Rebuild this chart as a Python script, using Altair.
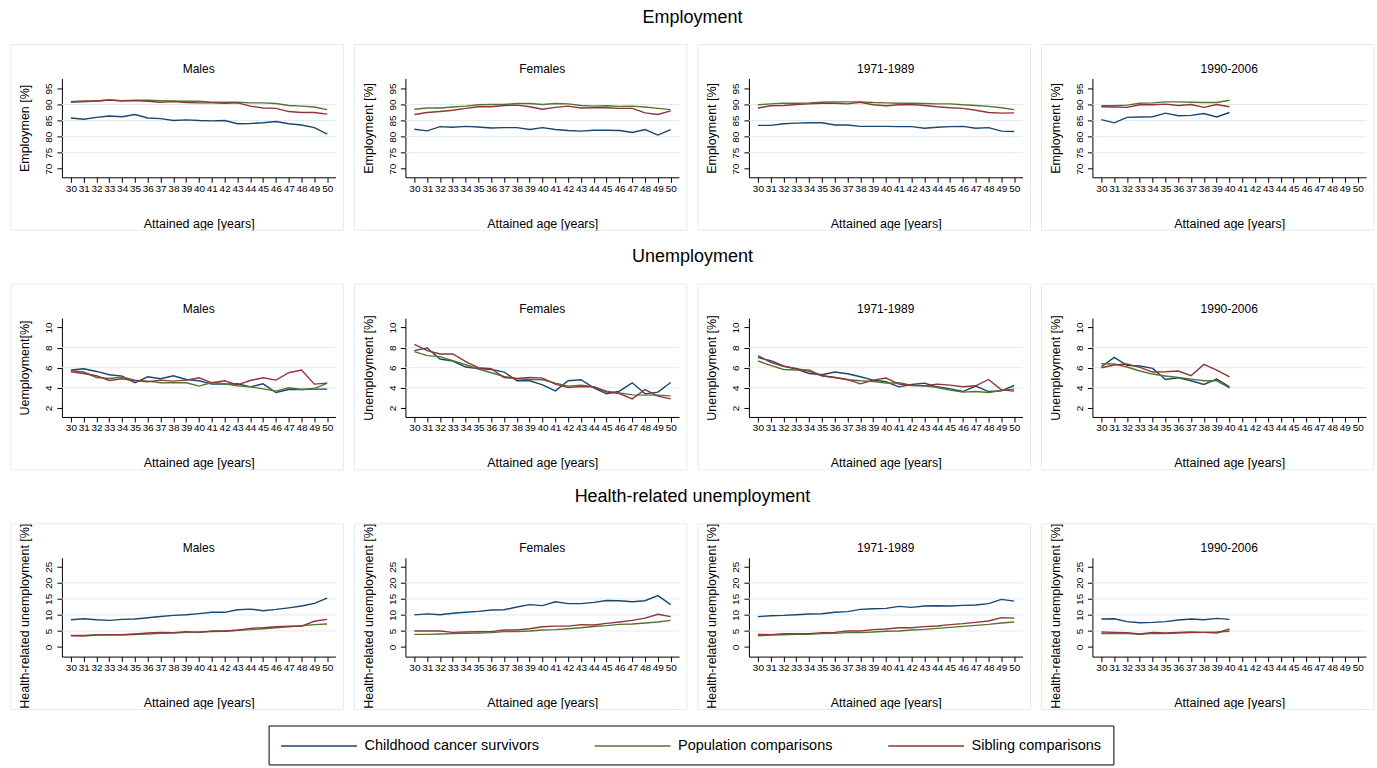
import altair as alt
import pandas as pd

FONT = "Liberation Sans"

AGES = list(range(30, 51))
AGES_RECENT = list(range(30, 41))
SERIES = ["Childhood cancer survivors", "Population comparisons", "Sibling comparisons"]
COLORS = ["#1a476f", "#55752f", "#90353b"]
GROUPS = ["Males", "Females", "1971-1989", "1990-2006"]
ROW_TITLES = ["Employment", "Unemployment", "Health-related unemployment"]
EMP_YTITLES = ["Employmen [%]", "Employment [%]", "Employment [%]", "Employment [%]"]
UNEMP_YTITLES = ["Uemployment[%]", "Unemployment [%]", "Unemployment [%]", "Unemployment [%]"]
HEALTH_YTITLES = ["Health-related unemployment [%]"] * 4
X_TITLE = "Attained age [years]"

EMP_TICKS = [70, 75, 80, 85, 90, 95]
EMP_GRID = [75, 80, 85, 90]
UNEMP_TICKS = [2, 4, 6, 8, 10]
UNEMP_GRID = [4, 6, 8]
HEALTH_TICKS = [0, 5, 10, 15, 20, 25]
HEALTH_GRID = [5, 10, 15, 20]

# Employment [%]
EMP_MALES_CCS = [85.8, 85.4, 86.0, 86.4, 86.2, 86.9, 85.8, 85.6, 85.0, 85.2, 85.0, 84.9, 85.0, 84.0, 84.1, 84.3, 84.7, 84.0, 83.6, 82.8, 80.8]
EMP_MALES_POP = [90.7, 90.8, 91.1, 91.4, 91.2, 91.3, 91.3, 91.2, 91.1, 91.0, 91.0, 90.7, 90.7, 90.7, 90.5, 90.5, 90.3, 89.7, 89.5, 89.2, 88.4]
EMP_MALES_SIB = [90.9, 91.1, 91.1, 91.4, 91.1, 91.2, 91.0, 90.7, 90.9, 90.6, 90.5, 90.5, 90.4, 90.5, 89.5, 88.9, 88.8, 87.8, 87.5, 87.5, 87.0]
EMP_FEMALES_CCS = [82.3, 81.8, 83.1, 82.9, 83.2, 83.0, 82.7, 82.8, 82.8, 82.2, 82.8, 82.2, 81.9, 81.7, 82.0, 82.0, 81.9, 81.3, 82.2, 80.5, 82.2]
EMP_FEMALES_POP = [88.5, 88.9, 88.9, 89.2, 89.5, 89.9, 90.0, 90.0, 90.3, 90.3, 90.0, 90.3, 90.2, 89.7, 89.5, 89.6, 89.4, 89.5, 89.2, 88.8, 88.4]
EMP_FEMALES_SIB = [86.9, 87.5, 87.8, 88.2, 88.8, 89.3, 89.3, 89.7, 89.8, 89.3, 88.5, 89.1, 89.5, 88.9, 89.0, 89.0, 88.8, 88.8, 87.4, 86.9, 88.0]
EMP_EARLY_CCS = [83.5, 83.5, 84.0, 84.2, 84.3, 84.3, 83.6, 83.6, 83.2, 83.2, 83.2, 83.1, 83.1, 82.6, 82.9, 83.1, 83.2, 82.6, 82.8, 81.7, 81.6]
EMP_EARLY_POP = [89.9, 90.2, 90.4, 90.4, 90.5, 90.7, 90.8, 90.8, 90.8, 90.6, 90.5, 90.4, 90.4, 90.3, 90.2, 90.2, 89.9, 89.7, 89.4, 89.0, 88.4]
EMP_EARLY_SIB = [88.9, 89.6, 89.7, 90.0, 90.2, 90.4, 90.4, 90.2, 90.7, 89.9, 89.6, 89.9, 90.0, 89.7, 89.3, 89.0, 88.8, 88.2, 87.5, 87.3, 87.4]
EMP_RECENT_CCS = [85.3, 84.3, 86.0, 86.1, 86.2, 87.3, 86.5, 86.6, 87.2, 86.1, 87.5]
EMP_RECENT_POP = [89.6, 89.6, 89.8, 90.4, 90.5, 90.8, 90.8, 90.7, 90.6, 90.6, 91.3]
EMP_RECENT_SIB = [89.3, 89.2, 89.1, 89.9, 89.9, 90.1, 89.7, 90.0, 89.1, 90.0, 89.3]

# Unemployment [%]
UNEMP_MALES_CCS = [5.77, 5.9, 5.63, 5.3, 5.17, 4.5, 5.1, 4.9, 5.2, 4.83, 4.7, 4.37, 4.37, 4.4, 4.1, 4.4, 3.53, 3.83, 3.83, 3.87, 3.87]
UNEMP_MALES_POP = [5.73, 5.57, 5.03, 4.93, 5.07, 4.77, 4.67, 4.5, 4.5, 4.5, 4.17, 4.53, 4.4, 4.2, 4.1, 3.9, 3.67, 4.0, 3.83, 3.93, 4.47]
UNEMP_MALES_SIB = [5.6, 5.43, 5.2, 4.73, 4.9, 4.7, 4.6, 4.77, 4.67, 4.77, 5.0, 4.5, 4.7, 4.3, 4.73, 5.0, 4.77, 5.5, 5.77, 4.37, 4.47]
UNEMP_FEMALES_CCS = [7.7, 7.97, 6.87, 6.67, 6.07, 5.93, 5.83, 5.57, 4.7, 4.7, 4.3, 3.7, 4.7, 4.8, 4.0, 3.4, 3.67, 4.5, 3.4, 3.57, 4.53]
UNEMP_FEMALES_POP = [7.6, 7.2, 7.1, 6.7, 6.3, 5.87, 5.5, 5.13, 4.9, 4.83, 4.8, 4.47, 4.17, 4.27, 4.1, 3.67, 3.5, 3.3, 3.27, 3.27, 3.2]
UNEMP_FEMALES_SIB = [8.33, 7.7, 7.37, 7.37, 6.6, 6.0, 5.9, 5.03, 4.93, 5.03, 4.97, 4.37, 4.03, 4.13, 4.1, 3.57, 3.43, 2.9, 3.83, 3.17, 2.9]
UNEMP_EARLY_CCS = [7.0, 6.7, 6.17, 5.87, 5.43, 5.3, 5.57, 5.4, 5.1, 4.77, 4.6, 4.1, 4.33, 4.47, 4.1, 3.9, 3.63, 4.17, 3.63, 3.7, 4.23]
UNEMP_EARLY_POP = [6.67, 6.23, 5.83, 5.77, 5.77, 5.2, 5.03, 4.8, 4.7, 4.63, 4.47, 4.5, 4.27, 4.2, 4.03, 3.77, 3.57, 3.63, 3.53, 3.73, 3.87]
UNEMP_EARLY_SIB = [7.2, 6.53, 6.13, 5.93, 5.63, 5.2, 5.03, 4.83, 4.4, 4.77, 4.97, 4.37, 4.23, 4.2, 4.37, 4.27, 4.1, 4.2, 4.83, 3.8, 3.67]
UNEMP_RECENT_CCS = [6.1, 7.03, 6.23, 6.17, 5.93, 4.83, 5.0, 4.7, 4.33, 4.87, 4.1]
UNEMP_RECENT_POP = [6.4, 6.37, 6.07, 5.67, 5.37, 5.17, 5.03, 4.87, 4.7, 4.7, 4.0]
UNEMP_RECENT_SIB = [6.0, 6.27, 6.37, 6.03, 5.57, 5.6, 5.67, 5.2, 6.33, 5.77, 5.1]

# Health-related unemployment [%]
HEALTH_MALES_CCS = [8.5, 8.8, 8.5, 8.3, 8.6, 8.7, 9.1, 9.5, 9.85, 10.06, 10.4, 10.8, 10.8, 11.6, 11.8, 11.3, 11.7, 12.2, 12.76, 13.6, 15.25]
HEALTH_MALES_POP = [3.6, 3.6, 3.8, 3.8, 3.8, 3.9, 4.05, 4.25, 4.36, 4.56, 4.67, 4.77, 4.88, 5.2, 5.4, 5.7, 6.0, 6.3, 6.6, 6.95, 7.15]
HEALTH_MALES_SIB = [3.5, 3.4, 3.7, 3.8, 3.8, 4.05, 4.36, 4.56, 4.46, 4.77, 4.56, 4.98, 4.98, 5.2, 5.8, 6.0, 6.3, 6.5, 6.5, 8.0, 8.6]
HEALTH_FEMALES_CCS = [10.0, 10.3, 10.06, 10.5, 10.8, 11.1, 11.5, 11.6, 12.45, 13.2, 12.9, 14.1, 13.5, 13.5, 13.9, 14.5, 14.4, 14.1, 14.4, 16.0, 13.2]
HEALTH_FEMALES_POP = [3.94, 3.94, 4.05, 4.15, 4.25, 4.36, 4.46, 4.77, 4.77, 4.98, 5.3, 5.4, 5.7, 6.0, 6.4, 6.64, 7.05, 7.15, 7.47, 7.8, 8.3]
HEALTH_FEMALES_SIB = [4.98, 4.98, 4.98, 4.56, 4.67, 4.77, 4.77, 5.3, 5.3, 5.7, 6.3, 6.5, 6.5, 6.95, 6.85, 7.37, 7.8, 8.3, 9.0, 10.2, 9.45]
HEALTH_EARLY_CCS = [9.45, 9.75, 9.85, 10.06, 10.27, 10.37, 10.8, 11.0, 11.7, 11.93, 12.03, 12.66, 12.34, 12.76, 12.86, 12.76, 12.97, 13.07, 13.5, 14.83, 14.3]
HEALTH_EARLY_POP = [3.5, 3.7, 3.8, 3.94, 3.94, 4.15, 4.25, 4.46, 4.46, 4.67, 4.88, 4.98, 5.3, 5.5, 5.8, 6.1, 6.43, 6.74, 7.05, 7.47, 7.78]
HEALTH_EARLY_SIB = [3.94, 3.84, 4.15, 4.15, 4.15, 4.46, 4.56, 4.98, 4.98, 5.4, 5.6, 6.0, 6.0, 6.33, 6.54, 6.95, 7.26, 7.68, 8.1, 9.13, 9.0]
HEALTH_RECENT_CCS = [8.7, 8.8, 7.9, 7.57, 7.68, 7.9, 8.4, 8.7, 8.5, 8.9, 8.6]
HEALTH_RECENT_POP = [4.15, 4.15, 4.15, 3.94, 4.25, 4.15, 4.36, 4.46, 4.56, 4.67, 4.88]
HEALTH_RECENT_SIB = [4.67, 4.56, 4.46, 4.05, 4.56, 4.36, 4.56, 4.67, 4.56, 4.36, 5.6]

ROWS = [
    dict(ytitles=EMP_YTITLES, domain=[67.35, 98.1], ticks=EMP_TICKS, grid=EMP_GRID, title_y=49.5,
         panels=[(AGES, [EMP_MALES_CCS, EMP_MALES_POP, EMP_MALES_SIB]),
                 (AGES, [EMP_FEMALES_CCS, EMP_FEMALES_POP, EMP_FEMALES_SIB]),
                 (AGES, [EMP_EARLY_CCS, EMP_EARLY_POP, EMP_EARLY_SIB]),
                 (AGES_RECENT, [EMP_RECENT_CCS, EMP_RECENT_POP, EMP_RECENT_SIB])]),
    dict(ytitles=UNEMP_YTITLES, domain=[1.1, 10.94], ticks=UNEMP_TICKS, grid=UNEMP_GRID, title_y=49.5,
         panels=[(AGES, [UNEMP_MALES_CCS, UNEMP_MALES_POP, UNEMP_MALES_SIB]),
                 (AGES, [UNEMP_FEMALES_CCS, UNEMP_FEMALES_POP, UNEMP_FEMALES_SIB]),
                 (AGES, [UNEMP_EARLY_CCS, UNEMP_EARLY_POP, UNEMP_EARLY_SIB]),
                 (AGES_RECENT, [UNEMP_RECENT_CCS, UNEMP_RECENT_POP, UNEMP_RECENT_SIB])]),
    dict(ytitles=HEALTH_YTITLES, domain=[-3.0, 27.8], ticks=HEALTH_TICKS, grid=HEALTH_GRID, title_y=58,
         panels=[(AGES, [HEALTH_MALES_CCS, HEALTH_MALES_POP, HEALTH_MALES_SIB]),
                 (AGES, [HEALTH_FEMALES_CCS, HEALTH_FEMALES_POP, HEALTH_FEMALES_SIB]),
                 (AGES, [HEALTH_EARLY_CCS, HEALTH_EARLY_POP, HEALTH_EARLY_SIB]),
                 (AGES_RECENT, [HEALTH_RECENT_CCS, HEALTH_RECENT_POP, HEALTH_RECENT_SIB])]),
]

W, H = 274, 99

# legend symbol: a long horizontal stroke drawn on a small nominal symbol
LEGEND_SYMBOL = "M-5,0H5"


def make_panel(ages, series_values, group, ytitle, domain, ticks, grid, title_y):
    recs = []
    for s, vals in zip(SERIES, series_values):
        for a, v in zip(ages, vals):
            recs.append({"age": a, "value": v, "series": s})
    df = pd.DataFrame(recs)
    yscale = alt.Scale(domain=domain, nice=False, zero=False)
    yenc = alt.Y("value:Q", scale=yscale,
                 axis=alt.Axis(values=ticks, title=ytitle, grid=False, format="d",
                               labelAngle=-90, labelAlign="center", labelBaseline="bottom",
                               labelPadding=3, titlePadding=12, titleY=title_y))
    xenc = alt.X("age:Q", scale=alt.Scale(domain=[29.3, 50.65], nice=False, zero=False),
                 axis=alt.Axis(values=AGES, title=X_TITLE, grid=False, format="d",
                               labelOverlap=False, labelFlush=False, labelPadding=1,
                               titlePadding=24))
    frame = alt.Chart(pd.DataFrame({"f": [0]})).mark_rect(
        fill="transparent", stroke="#e4ecef", strokeWidth=1, clip=False
    ).encode(x=alt.value(-51), x2=alt.value(282), y=alt.value(-34), y2=alt.value(152))
    gridlayer = alt.Chart(pd.DataFrame({"value": grid})).mark_rule(
        color="#e2ebee", strokeWidth=1
    ).encode(y=yenc)
    lines = alt.Chart(df).mark_line(strokeWidth=1.4).encode(
        x=xenc,
        y=yenc,
        color=alt.Color("series:N", sort=SERIES,
                        scale=alt.Scale(domain=SERIES, range=COLORS),
                        legend=alt.Legend(orient="none", legendX=207, legendY=648,
                                          direction="horizontal", columns=3, title=None,
                                          symbolType=LEGEND_SYMBOL, symbolSize=231,
                                          symbolOffset=30, symbolStrokeWidth=1.5,
                                          labelFontSize=14.5, labelFont=FONT, labelColor="#000",
                                          labelOffset=37, labelLimit=0, columnPadding=52,
                                          strokeColor="#000", padding=12)),
        detail="series:N",
    )
    return alt.layer(frame, gridlayer, lines).properties(
        width=W, height=H,
        title=alt.TitleParams(group, fontSize=12, fontWeight="normal", font=FONT,
                              color="#000", offset=-32, anchor="middle", frame="group"),
    )


rows = []
for r, rt in zip(ROWS, ROW_TITLES):
    panels = [make_panel(ages, vals, g, yt, r["domain"], r["ticks"], r["grid"], r["title_y"])
              for (ages, vals), g, yt in zip(r["panels"], GROUPS, r["ytitles"])]
    rows.append(alt.hconcat(*panels, spacing=70, bounds="flush",
                            title=alt.TitleParams(rt, fontSize=18, fontWeight="normal",
                                                  font=FONT, color="#000", anchor="middle",
                                                  offset=17)))

chart = alt.vconcat(*rows, spacing=240, bounds="flush").resolve_scale(color="shared").properties(
    padding={"left": 10, "top": 8, "right": 2, "bottom": 4}
).configure_view(stroke="transparent").configure_axis(
    domainColor="#000", domainWidth=1, tickColor="#000", tickSize=5, tickWidth=1,
    labelFont=FONT, labelFontSize=10, labelColor="#000",
    titleFont=FONT, titleFontSize=12.5, titleFontWeight="normal", titleColor="#000",
)

chart.save("out.html", embed_options={"renderer": "svg", "actions": False})
